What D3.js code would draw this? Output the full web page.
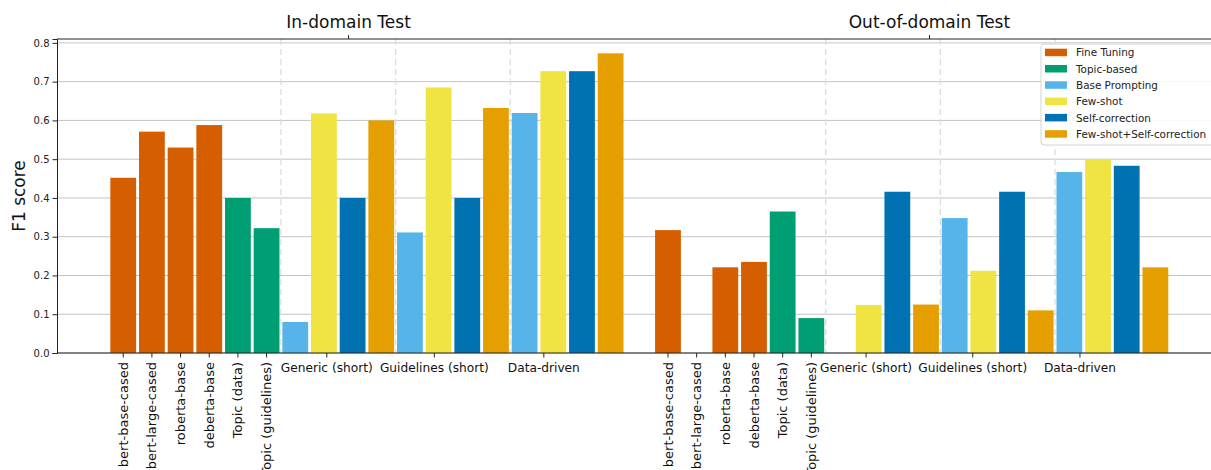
<!DOCTYPE html>
<html>
<head>
<meta charset="utf-8">
<script src="https://cdn.jsdelivr.net/npm/d3@7"></script>
<style>
  body { margin: 0; background: #fff; }
  svg { display: block; font-family: 'DejaVu Sans', sans-serif; }
</style>
</head>
<body>
<svg id="chart"></svg>
<script>
// data
const domains = ['In-domain Test', 'Out-of-domain Test'];
const fineTuneModels = ['bert-base-cased', 'bert-large-cased', 'roberta-base', 'deberta-base'];
const topicModels = ['Topic (data)', 'Topic (guidelines)'];
const promptGroups = ['Generic (short)', 'Guidelines (short)', 'Data-driven'];
const methods = ['Fine Tuning', 'Topic-based', 'Base Prompting', 'Few-shot', 'Self-correction', 'Few-shot+Self-correction'];
const colors = ['#D55E00', '#009E73', '#56B4E9', '#F0E442', '#0072B2', '#E69F00'];

// fine tuning + topic values per domain
const inFineTuning = [0.452, 0.571, 0.530, 0.588];
const inTopic = [0.400, 0.322];
const outFineTuning = [0.317, 0.0, 0.221, 0.235];
const outTopic = [0.365, 0.090];

// prompting values: [Base Prompting, Few-shot, Self-correction, Few-shot+Self-correction]
const inGeneric = [0.080, 0.618, 0.400, 0.600];
const inGuidelines = [0.311, 0.685, 0.400, 0.632];
const inDataDriven = [0.619, 0.727, 0.727, 0.773];
const outGeneric = [0.0, 0.124, 0.416, 0.125];
const outGuidelines = [0.348, 0.212, 0.416, 0.110];
const outDataDriven = [0.467, 0.498, 0.483, 0.221];

const yTicks = [0.0, 0.1, 0.2, 0.3, 0.4, 0.5, 0.6, 0.7, 0.8];

//base setting
const width = 1211;
const height = 470;
const margin = { top: 39, right: 0, bottom: 117, left: 57 };
const domainOffset = 19;
const barWidth = 0.9;
// group tick positions (relative to group start slot) and title tick positions
const groupTickShift = [[1.1, 0.85, 0.67], [0.91, 0.63, 0.37]];
const titlePos = [7.86, 28.12];
const separators = [5.5, 9.5, 13.5];

// build bar table
const bars = [];
const modelTicks = [];
const groupTicks = [];
const sets = [
  { ft: inFineTuning, topic: inTopic, prompt: [inGeneric, inGuidelines, inDataDriven] },
  { ft: outFineTuning, topic: outTopic, prompt: [outGeneric, outGuidelines, outDataDriven] },
];
sets.forEach((s, d) => {
  const off = d * domainOffset;
  s.ft.forEach((v, i) => {
    bars.push({ slot: off + i, value: v, method: 0 });
    modelTicks.push({ slot: off + i, label: fineTuneModels[i] });
  });
  s.topic.forEach((v, i) => {
    bars.push({ slot: off + 4 + i, value: v, method: 1 });
    modelTicks.push({ slot: off + 4 + i, label: topicModels[i] });
  });
  s.prompt.forEach((vals, g) => {
    vals.forEach((v, m) => bars.push({ slot: off + 6 + g * 4 + m, value: v, method: 2 + m }));
    groupTicks.push({ slot: off + 6 + g * 4 + groupTickShift[d][g], label: promptGroups[g] });
  });
});

// scales
const x = d3.scaleLinear().domain([-2.31, 37.94]).range([margin.left, width - margin.right]);
const y = d3.scaleLinear().domain([0, 0.81]).range([height - margin.bottom, margin.top]);

const svg = d3.select('#chart').attr('width', width).attr('height', height);

// horizontal grid
svg.append('g')
  .selectAll('line')
  .data(yTicks)
  .join('line')
  .attr('x1', margin.left)
  .attr('x2', width)
  .attr('y1', (d) => y(d))
  .attr('y2', (d) => y(d))
  .attr('stroke', '#c4c4c4')
  .attr('stroke-width', 1);

// dashed separators
const sepData = [];
[0, domainOffset].forEach((off) => separators.forEach((s) => sepData.push(off + s)));
svg.append('g')
  .selectAll('line')
  .data(sepData)
  .join('line')
  .attr('x1', (d) => x(d))
  .attr('x2', (d) => x(d))
  .attr('y1', margin.top)
  .attr('y2', height - margin.bottom)
  .attr('stroke', '#dcdcdc')
  .attr('stroke-width', 1.3)
  .attr('stroke-dasharray', '6,4');

// bars
svg.append('g')
  .selectAll('rect')
  .data(bars)
  .join('rect')
  .attr('x', (d) => x(d.slot - barWidth / 2))
  .attr('y', (d) => y(d.value))
  .attr('width', x(barWidth) - x(0))
  .attr('height', (d) => y(0) - y(d.value))
  .attr('fill', (d) => colors[d.method]);

// y axis
svg.append('g')
  .attr('transform', `translate(${margin.left},0)`)
  .call(d3.axisLeft(y).tickValues(yTicks).tickFormat(d3.format('.1f')).tickSize(4.5).tickPadding(3))
  .call((g) => g.select('.domain').attr('stroke', '#222'))
  .call((g) => g.selectAll('.tick line').attr('stroke', '#222'))
  .call((g) => g.selectAll('text').attr('font-size', 10).attr('fill', '#222').attr('font-family', 'DejaVu Sans'));

// bottom axis line
svg.append('line')
  .attr('x1', margin.left).attr('x2', width)
  .attr('y1', y(0)).attr('y2', y(0))
  .attr('stroke', '#222');

// top spine
svg.append('line')
  .attr('x1', margin.left).attr('x2', width)
  .attr('y1', margin.top).attr('y2', margin.top)
  .attr('stroke', '#222');

// bottom ticks
const allTicks = modelTicks.map((d) => d.slot).concat(groupTicks.map((d) => d.slot));
svg.append('g')
  .selectAll('line')
  .data(allTicks)
  .join('line')
  .attr('x1', (d) => x(d)).attr('x2', (d) => x(d))
  .attr('y1', y(0)).attr('y2', y(0) + 4.5)
  .attr('stroke', '#222');

// rotated model labels
svg.append('g')
  .selectAll('text')
  .data(modelTicks)
  .join('text')
  .attr('transform', (d) => `translate(${x(d.slot)},${y(0) + 9}) rotate(-90)`)
  .attr('text-anchor', 'end')
  .attr('dy', '0.35em')
  .attr('font-size', 13)
  .attr('fill', '#111')
  .text((d) => d.label);

// prompt group labels
svg.append('g')
  .selectAll('text')
  .data(groupTicks)
  .join('text')
  .attr('x', (d) => x(d.slot))
  .attr('y', y(0) + 18.5)
  .attr('text-anchor', 'middle')
  .attr('font-size', 12.2)
  .attr('fill', '#111')
  .text((d) => d.label);

// top ticks and titles
svg.append('g')
  .selectAll('line')
  .data(titlePos)
  .join('line')
  .attr('x1', (d) => x(d)).attr('x2', (d) => x(d))
  .attr('y1', margin.top).attr('y2', margin.top - 4)
  .attr('stroke', '#222');
svg.append('g')
  .selectAll('text')
  .data(titlePos)
  .join('text')
  .attr('x', (d) => x(d))
  .attr('y', 28)
  .attr('text-anchor', 'middle')
  .attr('font-size', 17)
  .attr('fill', '#111')
  .text((d, i) => domains[i]);

// y label
svg.append('text')
  .attr('transform', `translate(25,${(y(0) + margin.top) / 2}) rotate(-90)`)
  .attr('text-anchor', 'middle')
  .attr('font-size', 17)
  .attr('fill', '#111')
  .text('F1 score');

// legend
const legend = svg.append('g').attr('transform', 'translate(1041,44)');
legend.append('rect')
  .attr('width', 180).attr('height', 101)
  .attr('rx', 3)
  .attr('fill', 'rgba(255,255,255,0.85)')
  .attr('stroke', '#d4d4d4');
const items = legend.selectAll('g.item')
  .data(methods)
  .join('g')
  .attr('class', 'item')
  .attr('transform', (d, i) => `translate(0,${8.7 + i * 16.3})`);
items.append('rect')
  .attr('x', 4).attr('y', -4)
  .attr('width', 22).attr('height', 7.5)
  .attr('fill', (d, i) => colors[i]);
items.append('text')
  .attr('x', 35).attr('y', 0)
  .attr('dy', '0.35em')
  .attr('font-size', 10.4)
  .attr('fill', '#222')
  .text((d) => d);
</script>
</body>
</html>
